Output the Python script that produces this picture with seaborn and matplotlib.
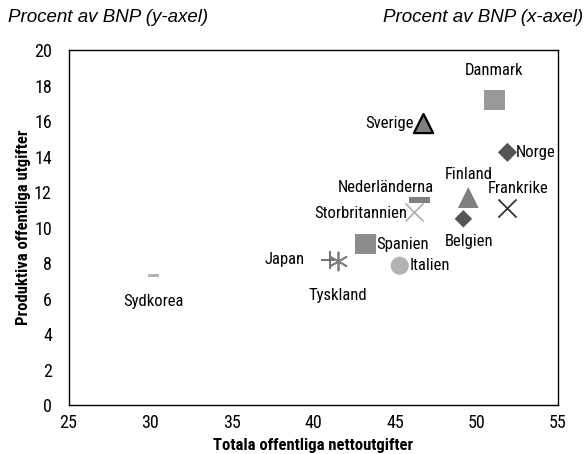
import numpy as np
import pandas as pd
import seaborn as sns
import matplotlib.pyplot as plt
from matplotlib import font_manager

# Data (percent of GDP)
countries = ["Danmark", "Sverige", "Norge", "Finland", "Frankrike", "Belgien",
             "Nederländerna", "Storbritannien", "Spanien", "Italien", "Japan",
             "Tyskland", "Sydkorea"]
total_spend = [51.1, 46.7, 51.9, 49.5, 51.9, 49.2, 46.5, 46.2, 43.2, 45.3, 41.0, 41.5, 30.2]
productive_spend = [17.2, 15.9, 14.25, 11.7, 11.1, 10.5, 11.55, 10.9, 9.07, 7.85, 8.2, 8.1, 7.3]

df = pd.DataFrame({"land": countries, "x": total_spend, "y": productive_spend})

bar = [(-1, -0.27), (1, -0.27), (1, 0.27), (-1, 0.27), (-1, -0.27)]
# marker, size, colour, edgecolour, edgewidth, label offset (pt), ha, va
style = {
    "Danmark":        ("s", 225, "#999999", "none", 0, (0, 16), "center", "bottom"),
    "Sverige":        ("^", 190, "#808080", "black", 1.6, (-6, 0), "right", "center"),
    "Norge":          ("D", 95, "#555555", "none", 0, (6, 0), "left", "center"),
    "Finland":        ("^", 225, "#7f7f7f", "none", 0, (0, 11), "center", "bottom"),
    "Frankrike":      ("x", 170, "#333333", "#333333", 1.3, (8, 9), "center", "bottom"),
    "Belgien":        ("D", 80, "#555555", "none", 0, (4, -11), "center", "top"),
    "Nederländerna":  (bar, 222, "#808080", "none", 0, (-24, 4), "center", "bottom"),
    "Storbritannien": ("x", 170, "#b3b3b3", "#b3b3b3", 1.3, (-5, -1), "right", "center"),
    "Spanien":        ("s", 210, "#8c8c8c", "none", 0, (8, 0), "left", "center"),
    "Italien":        ("o", 170, "#b3b3b3", "none", 0, (7, 0), "left", "center"),
    "Japan":          ("+", 170, "#666666", "#666666", 1.3, (-18, 0), "right", "center"),
    "Tyskland":       ((6, 2, 0), 170, "#808080", "#808080", 1.3, (0, -19), "center", "top"),
    "Sydkorea":       (bar, 60, "#b3b3b3", "none", 0, (0, -13), "center", "top"),
}

names = {f.name for f in font_manager.fontManager.ttflist}
prefs = ["Roboto Condensed", "Liberation Sans Narrow", "PT Sans Narrow",
         "Archivo Narrow", "Asap Condensed", "Barlow Condensed"]
cond = next((n for n in prefs if n in names), "DejaVu Sans")

sns.set_theme(style="white")
plt.rcParams["font.family"] = [cond, "DejaVu Sans"]
plt.rcParams["text.color"] = "black"

fig = plt.figure(figsize=(5.88, 4.54), dpi=100)
ax = fig.add_axes([0.1165, 0.108, 0.8325, 0.781])

for land in countries:
    m, s, c, ec, lw, off, ha, va = style[land]
    sub = df[df["land"] == land]
    sns.scatterplot(data=sub, x="x", y="y", marker=m, s=s, color=c,
                    edgecolor=ec, linewidth=lw, ax=ax, zorder=3)
    ax.annotate(land, (sub["x"].iloc[0], sub["y"].iloc[0]), xytext=off,
                textcoords="offset points", ha=ha, va=va, fontsize=12,
                color="black")

ax.set_xlim(25, 55)
ax.set_ylim(0, 20)
ax.set_xticks(np.arange(25, 56, 5))
ax.set_yticks(np.arange(0, 21, 2))
for sp in ax.spines.values():
    sp.set_color("black")
    sp.set_linewidth(1.0)
ax.tick_params(axis="x", direction="inout", length=7, width=0.8, colors="black",
               labelsize=13, pad=3)
ax.tick_params(axis="y", direction="out", length=4, width=0.8, colors="black",
               labelsize=13, pad=8)
ax.set_xlabel("Totala offentliga nettoutgifter", fontsize=12, fontweight="bold",
              color="black")
ax.xaxis.set_label_coords(0.5, -0.092)
ax.set_ylabel("Produktiva offentliga utgifter", fontsize=12, fontweight="bold",
              color="black")
ax.yaxis.set_label_coords(-0.076, 0.5)

fig.text(0.014, 0.962, "Procent av BNP (y-axel)", fontsize=13.5, style="italic",
         family=["Liberation Sans", "DejaVu Sans"], va="center", ha="left")
fig.text(0.992, 0.962, "Procent av BNP (x-axel)", fontsize=13.5, style="italic",
         family=["Liberation Sans", "DejaVu Sans"], va="center", ha="right")

fig.savefig("out.png", dpi=100)
